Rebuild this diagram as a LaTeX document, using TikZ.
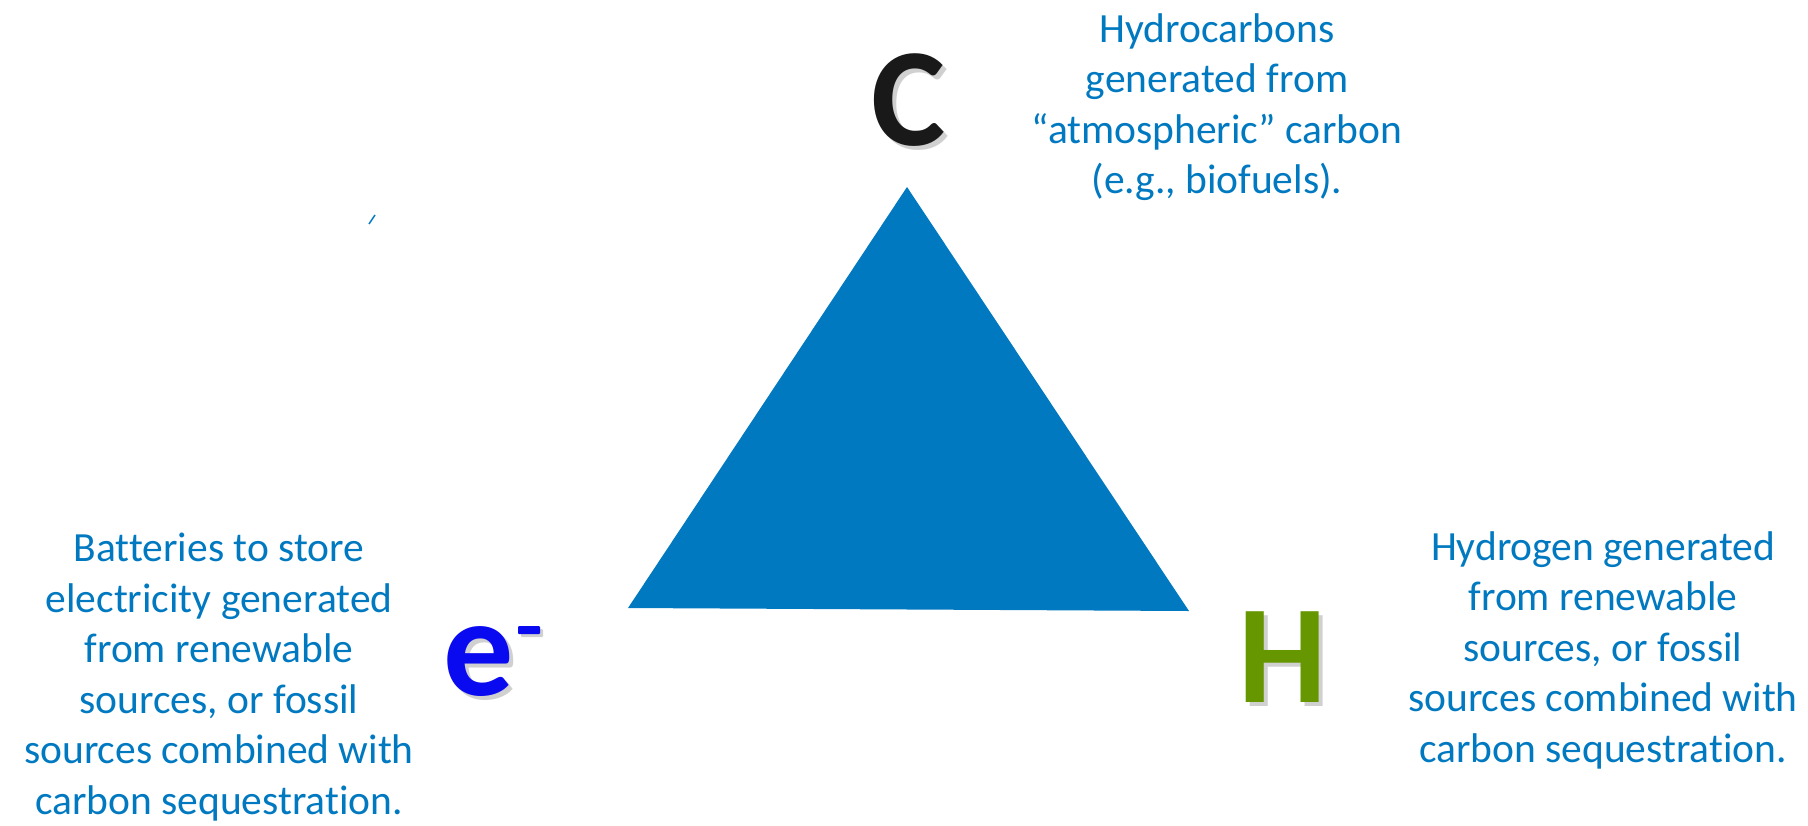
\documentclass[tikz,border=0pt]{standalone}
\usepackage{fontspec}
\setmainfont{Carlito}[Ligatures=NoCommon]
\definecolor{tblue}{RGB}{0,121,193}
\definecolor{ebl}{RGB}{10,10,240}
\definecolor{hgreen}{RGB}{102,150,0}
\definecolor{cblack}{RGB}{25,25,25}
\begin{document}
\begin{tikzpicture}[x=1pt,y=-1pt,
  desc/.style={text=tblue,align=center,inner sep=0pt,font=\fontsize{41.5}{50.5}\selectfont},
  big/.style={inner sep=0pt,font=\fontsize{140}{140}\selectfont\bfseries},
  shad/.style={inner sep=0pt,font=\fontsize{140}{140}\selectfont\bfseries,text=black!30,opacity=0.6}]
\useasboundingbox (0,0) rectangle (1808,825);
\fill[white] (0,0) rectangle (1808,825);
% triangle
\coordinate (top) at (907,187);
\coordinate (lft) at (628,608);
\coordinate (rgt) at (1189,611);
\fill[tblue] (top) -- (lft) -- (rgt) -- cycle;
% letters with soft shadow
\node[shad] (cs) at (913,104) {C};
\node[big,text=cblack] (c) at (909,100) {C};
\node[shad] (es) at (483,666) {e};
\node[big,text=ebl] (e) at (479,662) {e};
\fill[black!30,opacity=0.6,rounded corners=1pt] (521,629) rectangle (543,637);
\fill[ebl,rounded corners=1pt] (518,626) rectangle (540,634);
\node[shad] (hs) at (1287,661) {H};
\node[big,text=hgreen] (h) at (1283,657) {H};
% descriptions
\node[desc] (hc) at (1217,107) {Hydrocarbons\\generated from\\“atmospheric” carbon\\(e.g., biofuels).};
\node[desc] (bat) at (219,677) {Batteries to store\\electricity generated\\from renewable\\sources, or fossil\\sources combined with\\carbon sequestration.};
\node[desc] (hyd) at (1603,650) {Hydrogen generated\\from renewable\\sources, or fossil\\sources combined with\\carbon sequestration.};
% stray tick
\coordinate (t1) at (369,224);
\coordinate (t2) at (375,215);
\draw[tblue,line width=1.5pt] (t1) -- (t2);
\end{tikzpicture}
\end{document}
